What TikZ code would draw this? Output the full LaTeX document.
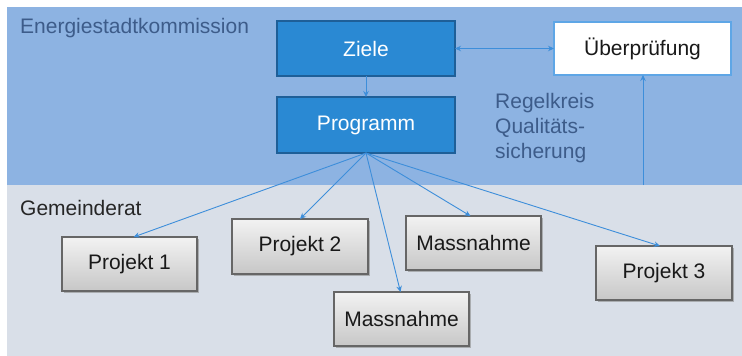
\documentclass[tikz,border=0pt]{standalone}
\usepackage{fontspec}
\setmainfont{Liberation Sans}
\usetikzlibrary{arrows.meta,shadows,calc}
\definecolor{bandtop}{HTML}{8DB3E2}
\definecolor{bandlow}{HTML}{D9DFE8}
\definecolor{bluefill}{HTML}{2A89D3}
\definecolor{blueedge}{HTML}{1E5F98}
\definecolor{lightedge}{HTML}{5EA6E6}
\definecolor{arrowcol}{HTML}{3D8EDA}
\definecolor{labelcol}{HTML}{3D5C8A}
\definecolor{greyedge}{HTML}{666666}
\tikzset{
  bluebox/.style={draw=blueedge, line width=2.2pt, fill=bluefill, text=white, font=\fontsize{21}{24}\selectfont, minimum width=178pt, minimum height=55pt, inner sep=0pt, outer sep=0pt},
  whitebox/.style={draw=lightedge, line width=2pt, fill=white, text=black!90, font=\fontsize{21}{24}\selectfont, minimum width=177pt, minimum height=53pt, inner sep=0pt, outer sep=0pt},
  greybox/.style={draw=greyedge, line width=1.2pt, top color=white!95!black, bottom color=black!22, text=black!90, font=\fontsize{21}{24}\selectfont, minimum width=135pt, minimum height=54pt, inner sep=0pt, outer sep=0pt, drop shadow={shadow xshift=1.5pt, shadow yshift=-2pt, fill=black!45, opacity=0.6}},
  conn/.style={draw=arrowcol, line width=0.9pt, -{Stealth[length=6pt,width=5.5pt]}},
  bandlabel/.style={anchor=west, font=\fontsize{21}{24}\selectfont, inner sep=0pt},
}
\begin{document}
\begin{tikzpicture}[x=1pt,y=-1pt]
\useasboundingbox (0,0) rectangle (742,356);
% bands
\fill[bandtop] (7,7) rectangle (742,185);
\fill[bandlow] (7,185) rectangle (742,356);
% labels
\node[bandlabel, text=labelcol] (lkom) at (20,28) {Energiestadtkommission};
\node[bandlabel, text=black!85] (lgem) at (20,208) {Gemeinderat};
\node[anchor=north west, align=left, text=labelcol, font=\fontsize{21}{25}\selectfont, inner sep=0pt] (lregel) at (495,93) {Regelkreis\\Qualitäts-\\sicherung};
% blue boxes
\node[bluebox] (ziele) at (366,48.5) {Ziele};
\node[bluebox, minimum height=56pt] (prog) at (366,125) {Programm};
\node[whitebox] (ueber) at (642.5,48.5) {Überprüfung};
% grey boxes
\node[greybox] (p1) at (129.5,264) {Projekt 1};
\node[greybox, minimum width=136pt, minimum height=55pt] (p2) at (300,246.5) {Projekt 2};
\node[greybox] (m1) at (473.5,243) {Massnahme};
\node[greybox] (m2) at (401.5,319) {Massnahme};
\node[greybox, minimum width=136pt] (p3) at (664,273) {Projekt 3};
% connectors
\draw[draw=arrowcol, line width=0.9pt, {Stealth[length=6pt,width=5.5pt]}-{Stealth[length=6pt,width=5.5pt]}] (ziele.east) -- (ueber.west);
\draw[conn] (ziele.south) -- (prog.north);
\coordinate (fb) at (643,185);
\draw[conn] (fb) -- (ueber.south -| fb);
\draw[conn] (prog.south) -- ($(p1.north)+(4,0)$);
\draw[conn] (prog.south) -- (p2.north);
\draw[conn] (prog.south) -- ($(m2.north)+(-1,0)$);
\draw[conn] (prog.south) -- ($(m1.north)+(-3,0)$);
\draw[conn] (prog.south) -- ($(p3.north)+(-4,0)$);
\end{tikzpicture}
\end{document}
